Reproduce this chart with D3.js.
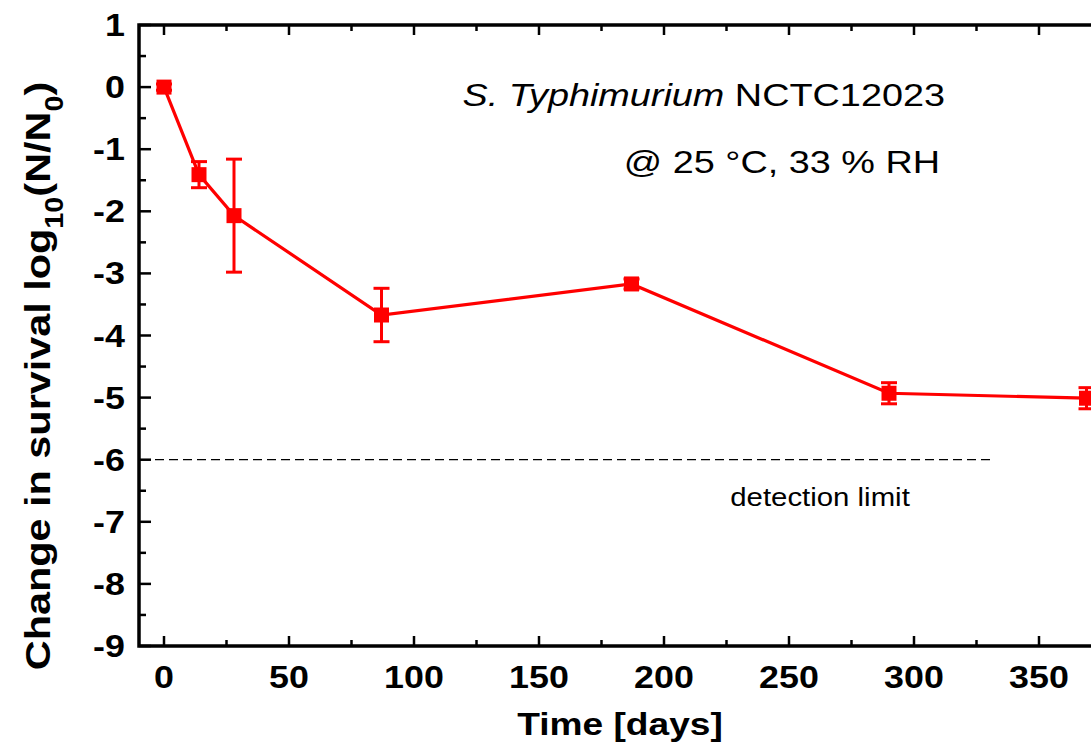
<!DOCTYPE html>
<html><head><meta charset="utf-8">
<script src="https://cdn.jsdelivr.net/npm/d3@7"></script>
<style>body{margin:0;background:#fff;overflow:hidden;}svg{display:block;font-family:"Liberation Sans",Arial,sans-serif;}</style>
</head><body>
<script>
const days = [0, 14, 28, 87, 187, 290, 369];
const logChange = [0, -1.41, -2.07, -3.67, -3.17, -4.93, -5.01];
const errors = [0.05, 0.21, 0.91, 0.43, 0.08, 0.17, 0.17];
const xTicks = [0, 50, 100, 150, 200, 250, 300, 350];
const yTicks = [1, 0, -1, -2, -3, -4, -5, -6, -7, -8, -9];
const detectionLimit = -6;
const detectionRange = [-10, 331];

const W = 1091, H = 747;
const svg = d3.select("body").append("svg").attr("width", W).attr("height", H);
const pL = 139, pT = 25, pB = 646;
const x = d3.scaleLinear().domain([-10, 390]).range([pL, pL + 400 * 2.5]);
const y = d3.scaleLinear().domain([-9, 1]).range([pB, pT]);
const pR = x(390);

function stext(px, py, sx, size, anchor, extra) {
  return svg.append("text")
    .attr("transform", `translate(${px},${py}) ${extra || ""} scale(${sx},1)`)
    .attr("text-anchor", anchor).attr("font-size", size);
}

const g = svg.append("g");
d3.range(0, 391, 25).forEach(v => {
  const len = v % 50 === 0 ? 10 : 6;
  g.append("line").attr("x1", x(v)).attr("x2", x(v)).attr("y1", pB).attr("y2", pB - len).attr("stroke", "#000").attr("stroke-width", 2.5);
  g.append("line").attr("x1", x(v)).attr("x2", x(v)).attr("y1", pT).attr("y2", pT + len).attr("stroke", "#000").attr("stroke-width", 2.5);
});
d3.range(-9, 1.01, 0.5).forEach(v => {
  const len = Math.abs(v % 1) < 1e-6 ? 12 : 7;
  g.append("line").attr("x1", pL).attr("x2", pL + len).attr("y1", y(v)).attr("y2", y(v)).attr("stroke", "#000").attr("stroke-width", 2.5);
  g.append("line").attr("x1", pR).attr("x2", pR - len).attr("y1", y(v)).attr("y2", y(v)).attr("stroke", "#000").attr("stroke-width", 2.5);
});
svg.append("rect").attr("x", pL).attr("y", pT).attr("width", pR - pL).attr("height", pB - pT)
  .attr("fill", "none").attr("stroke", "#000").attr("stroke-width", 3.5);

xTicks.forEach(d => stext(x(d), 688, 1.12, 32, "middle").attr("font-weight", "bold").text(d));
yTicks.forEach(d => stext(125, y(d) + 11, 1.12, 32, "end").attr("font-weight", "bold").text(d));

stext(620, 735, 1.16, 32, "middle").attr("font-weight", "bold").text("Time [days]");
const yl = stext(50, 376, 1.15, 36, "middle", "rotate(-90)").attr("font-weight", "bold");
yl.append("tspan").text("Change in survival log");
yl.append("tspan").attr("font-size", 25).attr("dy", 13).text("10");
yl.append("tspan").attr("dy", -13).text("(N/N");
yl.append("tspan").attr("font-size", 25).attr("dy", 13).text("0");
yl.append("tspan").attr("dy", -13).text(")");

svg.append("line").attr("x1", x(detectionRange[0]) + 2).attr("x2", x(detectionRange[1]))
  .attr("y1", y(detectionLimit)).attr("y2", y(detectionLimit))
  .attr("stroke", "#000").attr("stroke-width", 1.2).attr("stroke-dasharray", "9,5");
stext(820, 506, 1.13, 26, "middle").text("detection limit");

const t1 = stext(945, 106, 1.22, 31, "end");
t1.append("tspan").attr("font-style", "italic").text("S. Typhimurium");
t1.append("tspan").text(" NCTC12023");
stext(940, 173, 1.22, 31, "end").text("@ 25 °C, 33 % RH");

const red = "#ff0000";
const pts = days.map((d, i) => ({d, v: logChange[i], e: errors[i]}));
const dg = svg.append("g");
dg.append("path").datum(pts)
  .attr("d", d3.line().x(p => x(p.d)).y(p => y(p.v)))
  .attr("fill", "none").attr("stroke", red).attr("stroke-width", 3.2);
const eb = dg.selectAll(".eb").data(pts).enter().append("g");
eb.append("line").attr("x1", p => x(p.d)).attr("x2", p => x(p.d)).attr("y1", p => y(p.v + p.e)).attr("y2", p => y(p.v - p.e)).attr("stroke", red).attr("stroke-width", 3);
eb.append("line").attr("x1", p => x(p.d) - 8).attr("x2", p => x(p.d) + 8).attr("y1", p => y(p.v + p.e)).attr("y2", p => y(p.v + p.e)).attr("stroke", red).attr("stroke-width", 3);
eb.append("line").attr("x1", p => x(p.d) - 8).attr("x2", p => x(p.d) + 8).attr("y1", p => y(p.v - p.e)).attr("y2", p => y(p.v - p.e)).attr("stroke", red).attr("stroke-width", 3);
eb.append("rect").attr("x", p => x(p.d) - 7.5).attr("y", p => y(p.v) - 7.5).attr("width", 15).attr("height", 15).attr("fill", red);
</script>
</body></html>
